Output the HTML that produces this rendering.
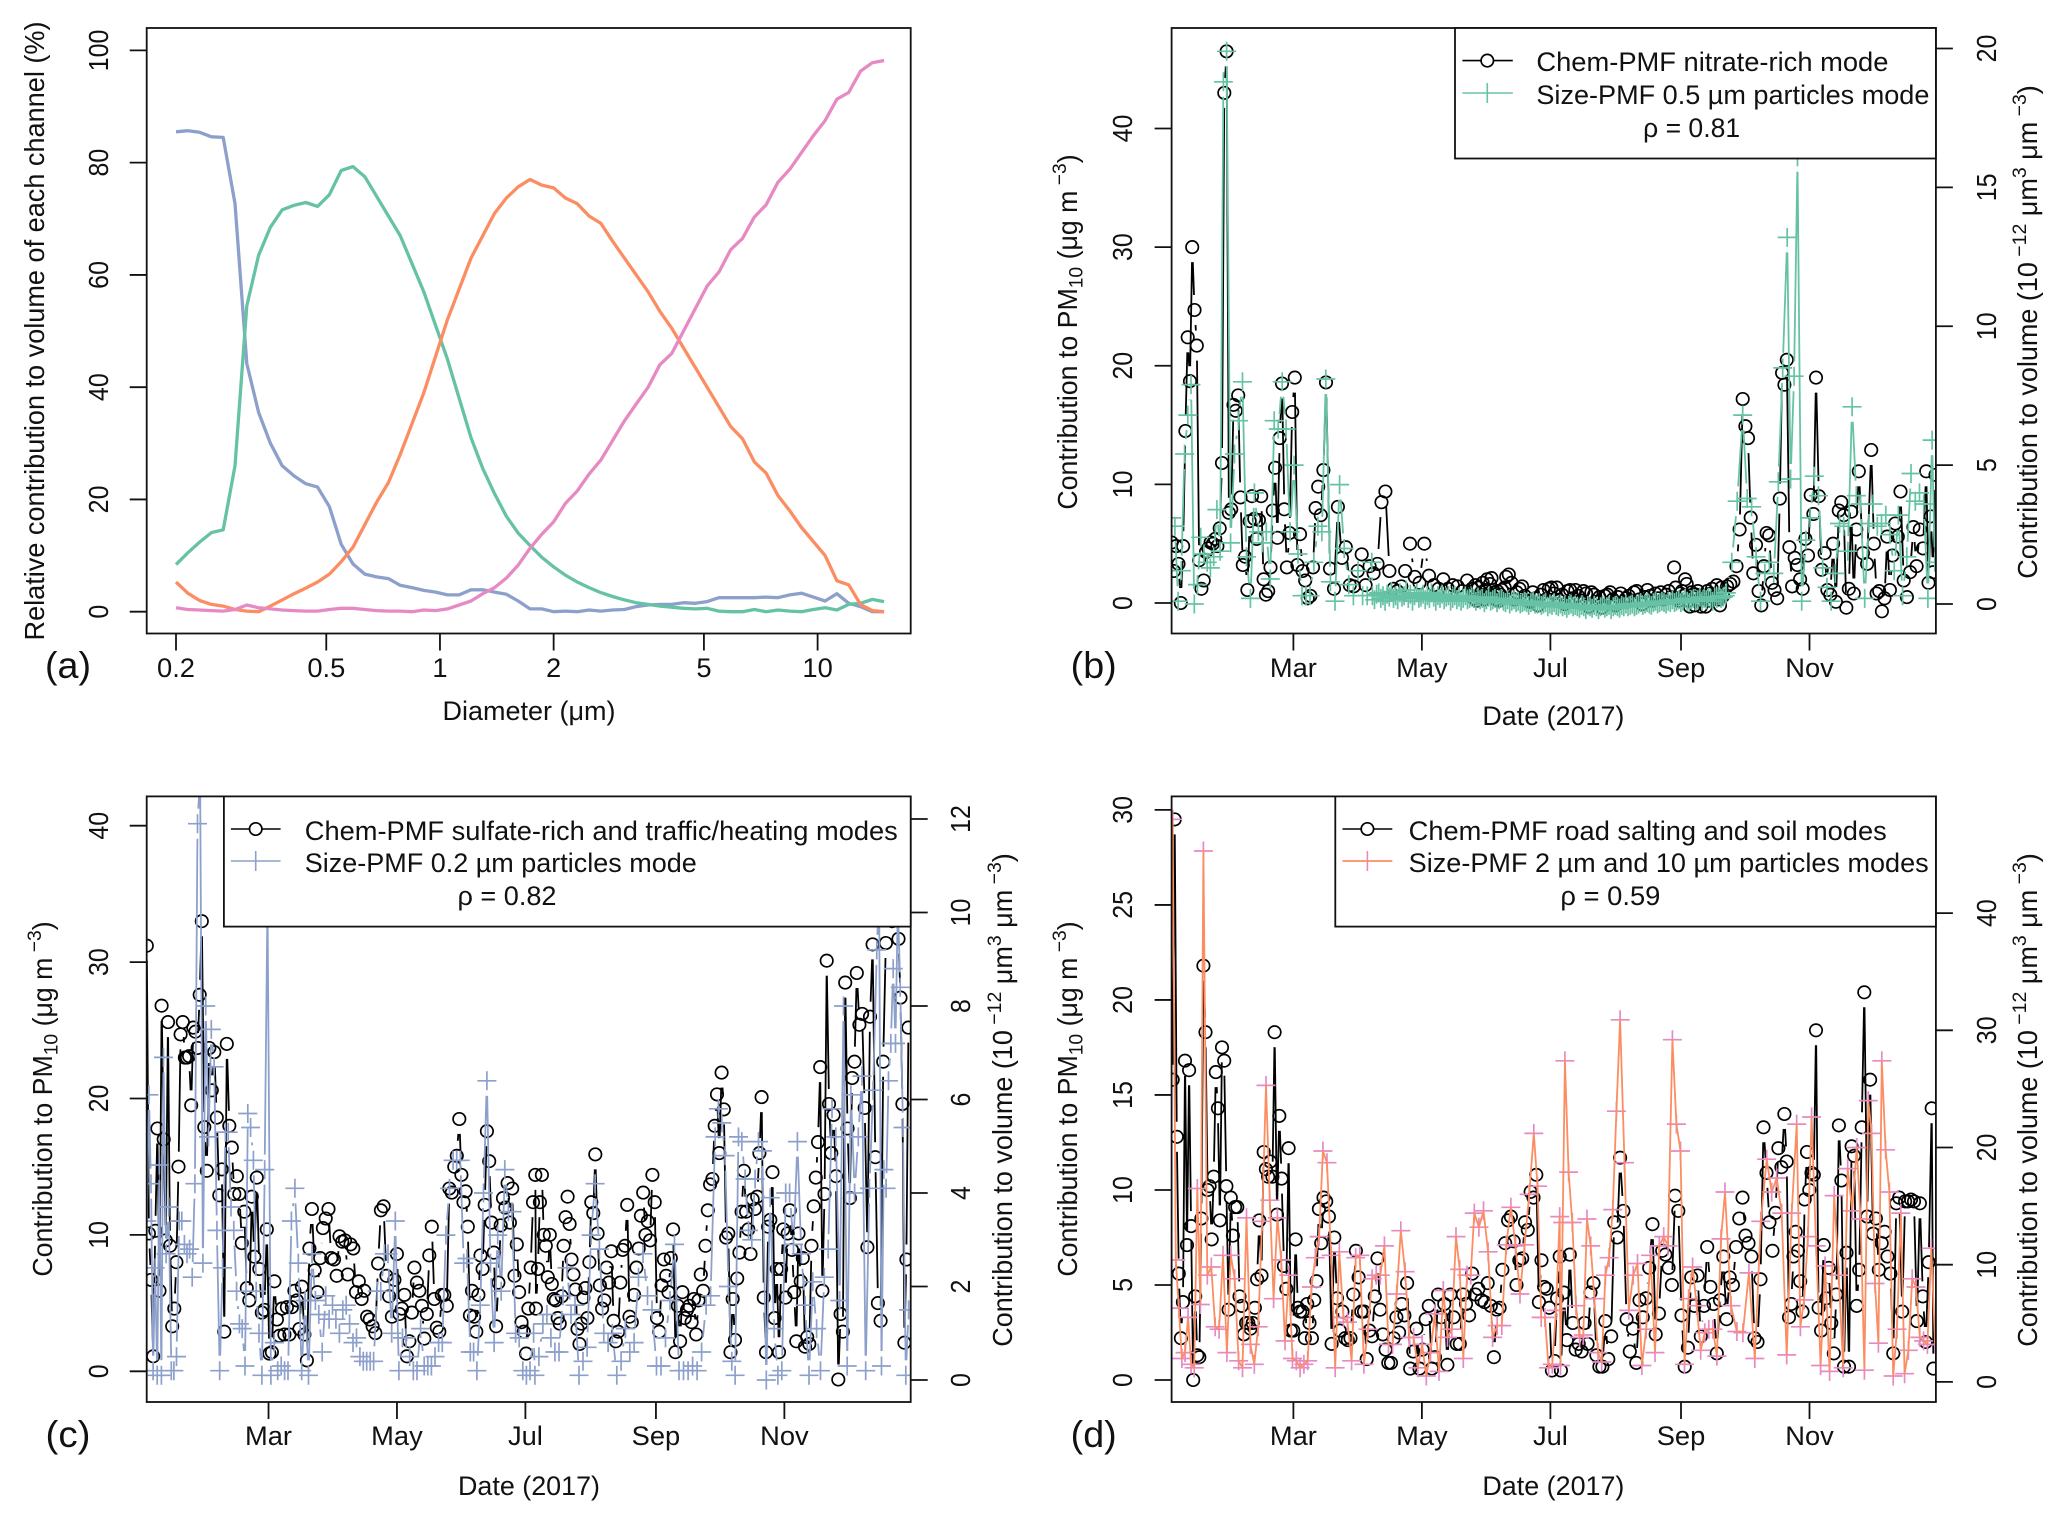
<!DOCTYPE html>
<html lang="en">
<head>
<meta charset="utf-8">
<title>PMF mode comparison chart</title>
<style>
html,body{margin:0;padding:0;background:#fff;}
svg{display:block;}
text{font-family:"Liberation Sans",sans-serif;fill:#111;}
.lab{font-size:25px;}
.leg{font-size:26.5px;}
</style>
</head>
<body>
<svg id="fig" xmlns="http://www.w3.org/2000/svg" width="2067" height="1523" viewBox="0 0 2067 1523">
<rect x="0" y="0" width="2067" height="1523" fill="#fff"/>
<defs>
<clipPath id="clipA"><rect x="146.7" y="28" width="764" height="605.5"/></clipPath>
<clipPath id="clipB"><rect x="1171.6" y="28" width="764.3" height="605.5"/></clipPath>
<clipPath id="clipC"><rect x="146.7" y="796.4" width="764" height="605.6"/></clipPath>
<clipPath id="clipD"><rect x="1171.6" y="796.4" width="764.3" height="605.6"/></clipPath>
</defs>

<g id="seriesA" clip-path="url(#clipA)"></g>
<g id="seriesB" clip-path="url(#clipB)"></g>
<g id="seriesC" clip-path="url(#clipC)"></g>
<g id="seriesD" clip-path="url(#clipD)"></g>
<g id="axes"></g>

<!-- Panel frames -->
<rect x="146.7" y="28" width="764" height="605.5" fill="none" stroke="#111" stroke-width="1.8"/>
<rect x="1171.6" y="28" width="764.3" height="605.5" fill="none" stroke="#111" stroke-width="1.8"/>
<rect x="146.7" y="796.4" width="764" height="605.6" fill="none" stroke="#111" stroke-width="1.8"/>
<rect x="1171.6" y="796.4" width="764.3" height="605.6" fill="none" stroke="#111" stroke-width="1.8"/>

<!-- Panel letters -->
<text x="68" y="678" font-size="37" text-anchor="middle" textLength="46" lengthAdjust="spacingAndGlyphs">(a)</text>
<text x="1093.7" y="678" font-size="37" text-anchor="middle" textLength="46" lengthAdjust="spacingAndGlyphs">(b)</text>
<text x="68" y="1447" font-size="37" text-anchor="middle" textLength="45" lengthAdjust="spacingAndGlyphs">(c)</text>
<text x="1093.7" y="1447" font-size="37" text-anchor="middle" textLength="46" lengthAdjust="spacingAndGlyphs">(d)</text>

<!-- Axis titles -->
<text class="lab" transform="translate(44,331) rotate(-90) scale(1,1.1)" text-anchor="middle" textLength="619" lengthAdjust="spacingAndGlyphs">Relative contribution to volume of each channel (%)</text>
<text class="leg" x="529" y="720" text-anchor="middle" textLength="173" lengthAdjust="spacingAndGlyphs">Diameter (μm)</text>
<text class="leg" x="1553.4" y="725" text-anchor="middle" textLength="142" lengthAdjust="spacingAndGlyphs">Date (2017)</text>
<text class="leg" x="529" y="1495" text-anchor="middle" textLength="142" lengthAdjust="spacingAndGlyphs">Date (2017)</text>
<text class="leg" x="1553.4" y="1495" text-anchor="middle" textLength="142" lengthAdjust="spacingAndGlyphs">Date (2017)</text>

<text class="lab" transform="translate(1077,332) rotate(-90) scale(1.07,1.1)" text-anchor="middle">Contribution to PM<tspan dy="5" font-size="18">10</tspan><tspan dy="-5"> (μg m</tspan><tspan dy="-10" font-size="18"> −3</tspan><tspan dy="10">)</tspan></text>
<text class="lab" transform="translate(52,1099) rotate(-90) scale(1.07,1.1)" text-anchor="middle">Contribution to PM<tspan dy="5" font-size="18">10</tspan><tspan dy="-5"> (μg m</tspan><tspan dy="-10" font-size="18"> −3</tspan><tspan dy="10">)</tspan></text>
<text class="lab" transform="translate(1077,1099) rotate(-90) scale(1.07,1.1)" text-anchor="middle">Contribution to PM<tspan dy="5" font-size="18">10</tspan><tspan dy="-5"> (μg m</tspan><tspan dy="-10" font-size="18"> −3</tspan><tspan dy="10">)</tspan></text>

<text class="lab" transform="translate(2037,332) rotate(-90) scale(1.08,1.1)" text-anchor="middle">Contribution to volume (10<tspan dy="-10" font-size="18"> −12</tspan><tspan dy="10"> μm</tspan><tspan dy="-10" font-size="18">3</tspan><tspan dy="10"> μm</tspan><tspan dy="-10" font-size="18"> −3</tspan><tspan dy="10">)</tspan></text>
<text class="lab" transform="translate(1012,1100) rotate(-90) scale(1.08,1.1)" text-anchor="middle">Contribution to volume (10<tspan dy="-10" font-size="18"> −12</tspan><tspan dy="10"> μm</tspan><tspan dy="-10" font-size="18">3</tspan><tspan dy="10"> μm</tspan><tspan dy="-10" font-size="18"> −3</tspan><tspan dy="10">)</tspan></text>
<text class="lab" transform="translate(2037,1100) rotate(-90) scale(1.08,1.1)" text-anchor="middle">Contribution to volume (10<tspan dy="-10" font-size="18"> −12</tspan><tspan dy="10"> μm</tspan><tspan dy="-10" font-size="18">3</tspan><tspan dy="10"> μm</tspan><tspan dy="-10" font-size="18"> −3</tspan><tspan dy="10">)</tspan></text>

<!-- Legend panel b -->
<g>
<rect x="1455" y="28" width="480.9" height="130.5" fill="#fff" stroke="#111" stroke-width="1.8"/>
<line x1="1462.4" x2="1512.8" y1="60.6" y2="60.6" stroke="#000" stroke-width="1.6"/>
<circle cx="1487.3" cy="60.6" r="6.2" fill="#fff" stroke="#000" stroke-width="1.7"/>
<line x1="1462.4" x2="1512.8" y1="93" y2="93" stroke="#66c2a5" stroke-width="1.6"/>
<line x1="1487.3" x2="1487.3" y1="83" y2="103" stroke="#66c2a5" stroke-width="1.6"/>
<text class="leg" x="1536.4" y="71" textLength="352" lengthAdjust="spacingAndGlyphs">Chem-PMF nitrate-rich mode</text>
<text class="leg" x="1536.4" y="104" textLength="393" lengthAdjust="spacingAndGlyphs">Size-PMF 0.5 µm particles mode</text>
<text class="leg" x="1691.6" y="137" text-anchor="middle" textLength="97" lengthAdjust="spacingAndGlyphs">ρ = 0.81</text>
</g>
<!-- Legend panel c -->
<g>
<rect x="223.9" y="796.4" width="686.8" height="130.2" fill="#fff" stroke="#111" stroke-width="1.8"/>
<line x1="230.9" x2="280.6" y1="829" y2="829" stroke="#000" stroke-width="1.6"/>
<circle cx="255.7" cy="829" r="6.2" fill="#fff" stroke="#000" stroke-width="1.7"/>
<line x1="230.9" x2="280.6" y1="861" y2="861" stroke="#8da0cb" stroke-width="1.6"/>
<line x1="255.7" x2="255.7" y1="851" y2="871" stroke="#8da0cb" stroke-width="1.6"/>
<text class="leg" x="304.8" y="840" textLength="593" lengthAdjust="spacingAndGlyphs">Chem-PMF sulfate-rich and traffic/heating modes</text>
<text class="leg" x="304.8" y="872" textLength="392" lengthAdjust="spacingAndGlyphs">Size-PMF 0.2 µm particles mode</text>
<text class="leg" x="507" y="905" text-anchor="middle" textLength="99" lengthAdjust="spacingAndGlyphs">ρ = 0.82</text>
</g>
<!-- Legend panel d -->
<g>
<rect x="1335.3" y="796.4" width="600.6" height="130.2" fill="#fff" stroke="#111" stroke-width="1.8"/>
<line x1="1342.5" x2="1392.3" y1="829" y2="829" stroke="#000" stroke-width="1.6"/>
<circle cx="1367.4" cy="829" r="6.2" fill="#fff" stroke="#000" stroke-width="1.7"/>
<line x1="1367.4" x2="1367.4" y1="851" y2="871" stroke="#e78ac3" stroke-width="1.6"/>
<line x1="1342.5" x2="1392.3" y1="861" y2="861" stroke="#fc8d62" stroke-width="1.8"/>
<text class="leg" x="1408.7" y="840" textLength="478" lengthAdjust="spacingAndGlyphs">Chem-PMF road salting and soil modes</text>
<text class="leg" x="1408.7" y="872" textLength="520" lengthAdjust="spacingAndGlyphs">Size-PMF 2 µm and 10 µm particles modes</text>
<text class="leg" x="1610.4" y="905" text-anchor="middle" textLength="100" lengthAdjust="spacingAndGlyphs">ρ = 0.59</text>
</g>
</svg>

<script>
// ---------- Panel (a): diameter channels ----------
const sizeChannelCount = 61;
const channelsPerDecade = 32;
const firstDiameter = 0.2;
const modeBlue = [85.5,85.7,85.4,84.6,84.5,72.7,44.2,35.5,30,26,24.2,22.8,22.2,18.7,12,8.5,6.7,6.2,5.9,4.7,4.3,3.8,3.5,3,3,3.9,3.9,3.5,3.1,1.9,0.5,0.5,0,0.1,0,0.3,0.1,0.3,0.4,0.9,1.2,1.3,1.3,1.6,1.5,1.8,2.5,2.5,2.5,2.5,2.6,2.5,3,3.3,2.6,1.9,3.2,1.5,0.9,0,0];
const modeGreen = [8.4,10.5,12.4,14.1,14.6,26,54.5,63.5,68.5,71.6,72.4,72.9,72.2,74.3,78.6,79.3,77.5,74,70.5,67,62,57,51,45,38,31,25.5,21,17,14,11.8,9.7,8,6.5,5.3,4.3,3.4,2.7,2.1,1.6,1.3,1,0.8,0.6,0.5,0.6,0.1,0,0,0.4,0,0.3,0.1,0,0.4,0.7,0.3,1.3,1.5,2.2,1.8];
const modeOrange = [5.3,3.3,2,1.3,1,0.4,0.1,0,1,2.1,3.2,4.2,5.3,6.7,8.9,11.5,15.5,19.5,23,28,33.5,39,45.5,52,57.5,63,67,71,73.7,75.7,77,76,75.5,73.7,72.7,70.5,69.2,66,63,60,57,53.5,50.5,47,43.5,40,36.5,33,30.8,26.7,24.7,20.7,18,15,12.5,10,5.5,4.8,1.3,0.2,0];
const modePink = [0.7,0.4,0.3,0.2,0.1,0.4,1.2,0.7,0.5,0.3,0.2,0.1,0.1,0.4,0.6,0.6,0.4,0.2,0.1,0.1,0,0.3,0.2,0.5,1.2,1.9,3.2,4.3,6,8.3,11.3,13.8,16,19.3,21.5,24.5,27,30.5,34,37,40,44,46,50,54,58,60.5,64.5,66.5,70.3,72.5,76.5,78.8,81.8,84.8,87.5,91.3,92.5,96.3,97.8,98.2];
const diameterTicks = [0.2,0.5,1,2,5,10];
const percentTicks = [0,20,40,60,80,100];

// ---------- Shared date axis ----------
const monthLabels = ["Mar","May","Jul","Sep","Nov"];
const monthDays = [60,121,182,244,305];

// ---------- Panel (b): nitrate-rich vs 0.5 um ----------
const chemB_JanMay = [5.1,2.7,4.8,3.3,0,4.8,14.5,22.4,18.7,30,24.7,21.7,3.6,1.2,1.9,4.3,4.6,5.1,5,5.4,4.8,6.3,11.8,43,46.5,7.6,7.9,16.7,16.2,17.5,8.9,3.2,3.9,1.1,6.9,9,7.1,5.4,7,9,2,0.7,1,3,7.8,11.4,5.5,13.9,18.5,7.9,3,5.9,16.1,19,3.2,5.8,2.7,1.9,0.4,0.6,3,8,9.8,7.4,11.2,18.6,2.9,1.2,8.1,3.8,4.7,1.5,1.4,2.7,4.1,1.5,3.1,2.5,3.3,8.5,9.4,2.7,1.2,1,1.4,2.7,5,2.2,1.7,5,2.3,1.5,1.2,2,1.2,1.5,1.4,1,1.9,1.2];
const chemB_MaySep = [1.2,0.4,1.5,0.2,1.3,0.5,0.9,1.7,0.3,1.1,2,0.6,1.6,2.1,0.5,0.9,0.3,1,0.2,0.7,1.1,0.4,1.3,2.2,2.4,1.7,0.3,0.9,1.2,1.4,0.6,0.2,0.1,0.9,0.4,-0.2,0.7,1.1,0.3,1.2,1.3,0.8,1.3,0.2,0.7,-0.1,1,1.1,0.4,1.1,0.6,0.2,1,0.8,-0.3,0.9,0.7,0.1,0.5,-0.4,0.6,0.7,0.9,0.3,-0.2,0.5,0.8,0.1,0.4,0.6,0.2,0.9,1,0.3,-0.1,0.5,1.1,0.6,0.2,0.8,0.4,0.9,0.3,0.7,1,0.5,3,1.3,0.4,0.2,0.8,1,0.6,2,1.6,0.2,-0.3,0.9,0.5,-0.2,0.7,1,0.3,-0.3,0.6,0.4,-0.3,1,0.2,0.8,1.2,0.5,0.4,1.5,0.3,-0.2,1.3,0.6];
const chemB_SepDec = [1.4,1.6,1.8,3.1,6.2,17.2,14.9,13.9,7.2,2.5,4.9,1,-0.2,3.1,5.9,5.7,1.7,1.1,0.4,8.8,19.4,18.4,20.5,4.7,1.4,3.8,3.2,2,1.2,5.4,4,9.1,7.5,19,9,2.8,4.2,1.1,0.7,5,0.1,7.8,8.5,7.4,-0.4,1.2,7.7,0.8,6.2,11.1,4.2,3.3,12.9,5,0.8,1,-0.7,0.4,5.6,1.1,4,6.7,5.6,9.4,1.9,0.5,2.6,6.4,3.1,6.2,4.6,11.1,1.7,7.3,2.6,10.8];
const sizeB_JanApr = [3.1,2.8,0.1,1.2,5.4,6.8,7.9,0,0.7,2.4,1.8,1.5,1.3,1.7,3.4,1.9,18.8,19.9,2.2,5.4,6.6,8,1.7,0.2,4,2.6,2.2,2.6,0.9,6.6,6.3,8,6.3,2.6,5,1.8,0.3,0.3,0.3,1.5,2.8,2.6,8.1,0.8,0.1,4.3,2,0.7,0.3,1.2,0.3,0.3,1.5];
const sizeB_AprSep = [0.3,0.15,0.35,0.4,0.2,0.3,0.1,0.35,0.25,0.45,0.2,0.3,0.15,0.4,0.25,0.3,0.5,0.2,0.35,0.1,0.3,0.4,0.2,0.25,0.35,0.15,0.3,0.2,0.4,0.25,0.1,0.3,0.2,0.35,0.15,0.25,0.3,0.1,0.2,0.3,0.15,0.25,0.1,0.2,0.3,0.15,0.2,0.25,0.2,0.1,0.25,0.15,0.2,0.05,0.15,0.25,0.1,0.15,0.2,0.05,0.15,0.2,0.1,0.05,0.15,0,0.1,0.15,0.05,0.1,0,0.05,0.1,0.05,-0.05,0.05,0.1,0,0,0.05,-0.05,0,0.05,-0.1,0,-0.05,0.05,-0.05,-0.1,0,-0.1,-0.05,-0.15,-0.05,0,-0.1,-0.05,-0.1,-0.15,-0.05,-0.1,-0.2,-0.05,-0.1,-0.15,-0.05,-0.1,-0.2,-0.1,-0.05,-0.15,-0.1,-0.05,-0.2,-0.1,-0.05,-0.1,-0.15,-0.05,-0.1,0,-0.1,-0.05,0,-0.1,-0.05,0,0.05,-0.05,0,0.05,0,-0.05,0.05,0.1,0,0.05,0.1,0.05,0,0.1,0.05,0.15,0.05,0.1,0.15,0.05,0.1,0.2,0.1,0.05,0.15,0.2,0.1,0.15,0.25,0.1,0.2,0.15,0.25,0.2,0.1,0.25,0.2,0.3,0.2,0.25,0.3];
const sizeB_SepDec = [0.4,1.5,3.7,6.8,3.8,3.5,1.7,0.1,1.1,1.5,1.1,4.4,8.5,13.2,4.5,8.2,16.1,0.1,2.3,3.1,4.6,3.9,1.3,0.6,0.1,1.1,2.9,2.8,1.9,7.1,3.9,3.6,0.2,2.9,3.6,2.8,2.9,3.2,2.5,1.2,3.2,0.3,1.7,4.7,3.7,4,3.6,0.2,5.9,1.5];
// observation-index -> day-of-year anchors
const chemB_JanMayIdx = [0,24,49,65,85,99];
const chemB_JanMayDay = [2.2,28.3,55.7,75.5,113.1,144.7];
const chemB_MaySepIdx = [0,23,86,119];
const chemB_MaySepDay = [145,161,240.7,265.5];
const chemB_SepDecIdx = [0,5,19,22,33,41,49,52,63,71,75];
const chemB_SepDecDay = [265.9,273.3,290.9,294.2,308.1,318.9,328.4,334.3,348.2,360.4,364.8];
const sizeB_JanAprIdx = [0,17,42,52];
const sizeB_JanAprDay = [2.2,28.3,75.4,97.2];
const sizeB_SepDecIdx = [0,3,13,16,29,48,49];
const sizeB_SepDecDay = [265.5,273.3,294.4,299.3,325.2,363.2,364.5];

// ---------- Panel (c): sulfate-rich + traffic/heating vs 0.2 um ----------
const chemC_JanJun = [31.2,10.1,6.7,1.1,10.3,17.8,5.9,26.8,17,9.6,25.6,9.2,3.3,4.6,8,15,24.7,25.6,23,23,23.1,19.5,25.2,24.9,23.7,27.6,33,17.9,14.7,23.7,20.6,23.4,18.6,12.9,14.8,2.9,24,18,16.4,13,14.3,13,9.4,11.7,6.1,5.2,12.8,8.4,14.2,7.5,4.3,4.5,10.4,1.3,1.4,6.6,3.8,2.6,4.6,2.7,4.7,2.7,4.7,5.9,5.2,3.1,6.2,2.7,0.8,9,11.9,7.4,5.8,8.3,10.5,11.2,11.9,8.3,8.2,7,9.9,9.5,9.6,7.1,9.3,9,5.8,6.6,5.3,5.9,4,3.8,3.3,2.8,7.9,11.8,12.1,7,5.5,4,6.7,8.6,4.2,4.6,5.6,1.1,2.2,4.3,7.6,6.5,5.9,4.8,2.4,4.2,8.5,10.6,5.3,3.2,2.9,5.6,5.6,4.8,13.4,13.1,15,15.8,18.5,14.4,12.4,13.2,10.6,4.1,5.9,4,2.9,5.6,8.5,7.5,12.2,17.6,15.4,10.9,8.7,3.3,6.5,10.7,12.7,12,13.8,10.9,13.4,7,9.3,5.8,3.6,2.9,1.3,4.6,7.6,12.4,14.4];
const chemC_JulDec = [4.6,7.5,12.4,14.4,10,9.2,6.9,10,6.4,5.3,5.2,3.9,3.5,5.5,9.2,11.3,12.8,10.8,8.2,7.1,6,3.1,2,3.5,5.4,6.1,3.9,8,12.4,11.6,15.9,10.1,6.3,4.6,5.2,7.6,6.5,8.8,3.7,2.2,2.9,6.5,8.9,9.2,12.2,4,3.6,5.6,7.6,9,11.4,13.1,10,11,9.6,14.4,12.4,3.9,2.9,6.3,8.2,7,5.8,8.3,10.4,1.4,4.8,2.2,5.8,3.9,4.5,4.8,3.6,5.3,2.7,5.2,7.1,5.9,9.2,11.8,13.7,14.1,18,20.3,16,21.9,19.2,9.8,10.1,1.4,5.3,2.3,6.8,8.7,11.7,14.7,11.7,10.4,8.6,12.6,11.9,12.8,16,20.1,5.4,1.4,10.6,11.1,14.6,3.9,7.5,1.4,7.5,10.4,5.4,10.1,11.8,8.9,5.8,2.2,10.1,6.6,8.3,1.8,2.5,2,9.2,12.1,14.2,16.8,22.3,5.9,13,30.1,19.6,16,18.8,14.3,-0.6,4.2,2.9,28.5,17.8,12.7,21.5,22.7,29.2,25.4,26.2,19.3,9.1,26,31.3,15.7,5,3.7,22.7,31.4,33,31.7,27.4,19.6,2.1,8.2,25.2];
const sizeC_JanJun = [3.4,6.1,4.2,0.2,2.4,0.1,4.6,0.1,6.9,2.7,3.7,0.2,0.2,0.5,3.4,3.4,2.9,2.7,2.8,2.2,4.2,11.9,12.9,2.5,8,5.2,7.5,6.7,3.2,0.2,2.4,5.3,5.3,3.7,3.2,1.9,1.2,1.1,0.3,5.7,5.4,4.7,1.9,1,0.1,4.5,10.2,0.1,0.8,0.2,0.3,0.2,0.2,3.4,4.1,2.5,0.2,1.7,0.1,2.7,1.7,1.4,0.6,1.8,1.3,1.6,1.3,1,1.5,1.6,1.2,0.8,0.9,0.5,0.4,0.4,0.4,0.4,1.9,1.9,2.7,2.7,1,3.4,0.2,0.9,0.9,0.5,0.2,0.2,1.1,0.3,0.3,0.3,0.5,0.8,0.8,3.1,4.1,4.7,4.7,4.7,2.5,2.6,0.6,0.6,0.2,1.6,4,6.4,2.5,0.8,3.1,1.9,4.5,3.6,3.6,1,0.9,0.2,0.1,0.2,1];
const sizeC_JulDec = [0.1,0.5,1.2,1.4,0.9,0.6,0.6,1.8,2.4,1.4,1.6,0.1,0.4,0.7,3.1,4.2,2.8,1,0.8,1,0.1,0.4,1.1,0.6,0.8,2.2,2.7,1.8,1.5,0.3,0.3,0.9,1.7,2.9,0.2,0.2,0.2,0.3,0.2,0.6,1.6,1.8,5.2,5.8,5.5,4.8,2,0.4,0.1,5.2,5.1,4.3,3.2,3,4.3,5.1,4.9,0,3.9,1.1,0.1,0.2,4,4,2.9,5.1,2.7,1.6,0.1,2.1,1.1,0.2,2.2,2.8,5.8,5.2,1.7,8,0.3,6.1,4,5.2,6.5,0.2,4.1,6.2,9.2,10.4,0.3,4.5,4.1,6.4,7.2,8.8,7.2,10.2,8.4,5.4,0.1,1.5];
const chemC_JanJunIdx = [0,26,70,99,126,139,160];
const chemC_JanJunDay = [2.2,28.3,80.6,118.6,150.6,163.7,186.7];
const chemC_JulDecIdx = [0,30,55,85,103,133,146,157,159,164];
const chemC_JulDecDay = [187,215.2,242.3,275.2,294.2,325.1,339.4,353.2,359.2,363.9];
const sizeC_JanJunIdx = [0,8,22,46,77,101,109,122];
const sizeC_JanJunDay = [2.2,10.1,27.5,59.5,109.9,151.1,163.7,185.9];
const sizeC_JulDecIdx = [0,15,25,42,55,65,77,86,96,99];
const sizeC_JulDecDay = [186.5,215.1,235.7,272.1,292.7,311.2,333.1,348.9,360,364];

// ---------- Panel (d): road salting + soil vs 2 um + 10 um ----------
const chemD_JanJun = [15.8,29.5,12.8,5.6,2.2,4.1,16.8,7.1,16.3,8.1,0,4.4,1.3,1.2,8.5,21.8,18.3,10,10.2,7.4,10.7,16.2,14.3,8.4,17.5,16.8,10.2,3.7,9.6,7.6,9.1,9.1,4.4,3.9,2.4,3,3,2.7,3,3.8,5.3,8.4,5.5,12,11.1,10.7,11.5,10.7,18.3,8.7,13.9,10.6,6,4.8,12.2,2.6,2.6,7.4,3.8,3.6,3.6,2.2,4,3,2.2,4.2,5.2,9,7.2,9.6,9.4,8.6,1.9,7.5,4.3,2.6,3.6,2.2,2.1,2.2,4.5,6.8,5.4,3.6,3.6,1.1,2.6,2.3,4.4,6.4,3.7,2.4,1.6,0.9,0.9,2.2,3.3,2.5,4,3.4,5.1,0.6,1.5,2.7,0.6,1.6,3.2,3.9,0.6,1.2,4.5,3.3,4,0.8,4.5,3.3,1.9,1.9,4.5,4,3.4,5.6,4.5,4.8,4.2,4.1,5.1,3.9,1.2,3.7,3.8,5.8,7.2,8.4,8.6,7.3,5,6.3,6.4,8.3,7.9,9.9,9.6,10.8,4.1,6.3,4.9,4.8,3.8,0.5,1,4.3,6.5];
const chemD_JulDec = [0.5,4.6,2.1,6.6,3,1.6,1.9,1.5,3,1.9,4.6,5.1,1.3,0.7,0.7,3.1,1.1,2.3,8.3,7.5,11.7,8.9,3.2,1.5,2.7,0.9,4.2,3.3,4.3,5.9,8.2,2.4,3.5,6.8,6.6,5.9,5,9.7,8.9,3.4,0.7,1.7,5.4,3.9,5.5,2.3,3.9,7,4.9,4,1.4,4.2,6.5,3.2,5.4,5,7,8.5,9.6,7.6,7.2,6.5,2.2,2,5.3,13.3,10.9,8.3,6.8,8.8,12.2,11.2,14,11.5,3.3,4,6.5,7.8,6.8,5.2,3.6,9.5,12,10,10.9,10.8,18.4,3.8,2.6,7.1,4.3,5.9,3,1.4,4.5,13.4,10.5,0.7,6.7,0.7,12.3,11.8,3.9,5.8,13.3,20.4,8.6,15.8,7.7,8.5,5.8,7.2,7.8,6.5,5.6,1.4,9.3,9.6,3.6,9.4,9.4,9.5,9.4,3.1,9.3,4.4,2,6.2,14.3,0.6];
const sizeD_JanJun = [48,10.4,6.3,2,2.5,5.5,1.5,1.2,16.5,6.6,45.3,9.1,9.8,4.7,4.5,10.8,2.5,10.8,8.8,1.8,1.2,14,3.2,1.5,4.7,13.7,25.3,15.5,7.1,14,10.4,3.5,9.1,2,1.8,1.2,1.5,1.8,8.1,10.6,12.4,19.7,18.7,10.8,1.2,11.1,5.5,5.1,1.8,10.6,10.8,1.5,4.5,8.8,9.1,9.1,11.6,3.2,3.2,7.5,12.9,9.4,3.8,3.8,1.2,3.2,0.5,2.5,5.8,0.9,7.8,3.8,4.5,12.4,9.6,2,9.1,9.1,14.4,13.2,14.6,11.1,3.8,4.8,4.8,11.7,14.9,11.6,7.5,11.7,16,21.2,16.7,5.5,5.5,1.2,1.5,6.1,14.1];
const sizeD_JulDec = [1.4,13.6,27.4,17.9,13.6,6.5,3.8,4,13.9,11.6,7.1,2.5,1.7,9.1,10.6,14.7,23.1,30.9,18.7,6.1,9.1,10.1,1.4,4.5,10.8,2.5,11.6,12.4,11.6,29.2,22,19.7,1.5,7.1,9.8,6.5,2.7,4.2,4.5,4.5,2.2,12.2,16.2,6.5,4.3,4.2,9.3,2,13.7,19,16.2,17.4,14.4,2.3,14.4,22,4.7,7,12.4,22.6,11.6,1.4,9.9,0.9,15.9,9.1,1.2,18.2,14.6,20,13.9,1,24,21.2,8.4,3.3,27.4,19.8,16.2,0.5,4.5,14.4,0.7,2.7,8.8,8.1,3.8,3.5,3.2,11.4,3.2];
const chemD_JanJunIdx = [0,15,24,48,69,100,128,143,152];
const chemD_JanJunDay = [2.7,17.3,26.1,51.1,74.3,114,155.2,175.3,186.4];
const chemD_JulDecIdx = [0,20,37,58,72,86,105,115,128,129];
const chemD_JulDecDay = [187,215.1,241.2,273.2,293.1,308.1,331,344.8,363,363.8];
const sizeD_JanJunIdx = [0,10,26,41,60,73,78,91,98];
const sizeD_JanJunDay = [2.7,17.3,47,74,111,137.2,145.9,174.1,186.4];
const sizeD_JulDecIdx = [0,2,17,29,42,49,55,59,69,72,76,90];
const sizeD_JulDecDay = [186.8,188.9,215.1,239.9,264.9,284.7,298.9,306,327.4,332.9,339.3,364.6];

const leftTicksB = [0,10,20,30,40];
const rightTicksB = [0,5,10,15,20];
const leftTicksC = [0,10,20,30,40];
const rightTicksC = [0,2,4,6,8,10,12];
const leftTicksD = [0,5,10,15,20,25,30];
const rightTicksD = [0,10,20,30,40];

// ---------- Drawing ----------
const NS = "http://www.w3.org/2000/svg";
const BLACK = "#000";
const GREEN = "#66c2a5", ORANGE = "#fc8d62", BLUE = "#8da0cb", PINK = "#e78ac3";

function linear(d0, d1, r0, r1) {
  return function (v) { return r0 + (v - d0) * (r1 - r0) / (d1 - d0); };
}
function create(parent, tag) {
  const el = document.createElementNS(NS, tag);
  parent.appendChild(el);
  return el;
}
// Place observations on the calendar, using day anchors for selected observation numbers.
function place(values, idx, days) {
  return values.map(function (v, i) {
    let s = 0;
    while (s < idx.length - 2 && i > idx[s + 1]) s++;
    const day = days[s] + (i - idx[s]) * (days[s + 1] - days[s]) / (idx[s + 1] - idx[s]);
    return { day: day, value: v };
  });
}
function pathWithGaps(points, gap) {
  let d = "";
  for (let i = 1; i < points.length; i++) {
    const a = points[i - 1], b = points[i];
    const dx = b[0] - a[0], dy = b[1] - a[1];
    const len = Math.sqrt(dx * dx + dy * dy);
    if (len <= 2 * gap) continue;
    const ux = dx / len, uy = dy / len;
    d += "M" + (a[0] + ux * gap).toFixed(1) + " " + (a[1] + uy * gap).toFixed(1) +
         "L" + (b[0] - ux * gap).toFixed(1) + " " + (b[1] - uy * gap).toFixed(1);
  }
  return d;
}
function drawChem(g, data, xs, ys) {
  const pts = data.map(function (p) { return [xs(p.day), ys(p.value)]; });
  const line = create(g, "path");
  line.setAttribute("d", pathWithGaps(pts, 15));
  line.setAttribute("fill", "none");
  line.setAttribute("stroke", BLACK);
  line.setAttribute("stroke-width", "1.8");
  
  
  pts.forEach(function (p) {
    const c = create(g, "circle");
    c.setAttribute("cx", p[0].toFixed(1));
    c.setAttribute("cy", p[1].toFixed(1));
    c.setAttribute("r", "6.2");
    c.setAttribute("fill", "none");
    c.setAttribute("stroke", BLACK);
    c.setAttribute("stroke-width", "1.7");
    
    
  });
}
function drawSize(g, data, xs, ys, lineColor, crossColor, gap) {
  const pts = data.map(function (p) { return [xs(p.day), ys(p.value)]; });
  pts.forEach(function (p) {
    const c = create(g, "path");
    c.setAttribute("d", "M" + (p[0] - 9.5).toFixed(1) + " " + p[1].toFixed(1) + "h19M" + p[0].toFixed(1) + " " + (p[1] - 9.5).toFixed(1) + "v19");
    c.setAttribute("fill", "none");
    c.setAttribute("stroke", crossColor);
    c.setAttribute("stroke-width", "1.7");
    
    
  });
  const line = create(g, "path");
  line.setAttribute("d", pathWithGaps(pts, gap));
  line.setAttribute("fill", "none");
  line.setAttribute("stroke", lineColor);
  line.setAttribute("stroke-width", "1.8");
  
  
}
const axesGroup = document.getElementById("axes");
function tickLine(x1, y1, x2, y2) {
  const t = create(axesGroup, "line");
  t.setAttribute("x1", x1);
  t.setAttribute("y1", y1);
  t.setAttribute("x2", x2);
  t.setAttribute("y2", y2);
  t.setAttribute("stroke", "#111");
  t.setAttribute("stroke-width", "1.8");
  
  
}
function horizontalLabel(x, y, label) {
  const t = create(axesGroup, "text");
  t.setAttribute("class", "leg");
  t.setAttribute("text-anchor", "middle");
  t.setAttribute("transform", "translate(" + x + "," + y + ") scale(1.03,1)");
  t.textContent = label;
  
  
}
function verticalLabel(x, y, label) {
  const t = create(axesGroup, "text");
  t.setAttribute("class", "lab");
  t.setAttribute("text-anchor", "middle");
  t.setAttribute("transform", "translate(" + x + "," + y + ") rotate(-90) scale(1,1.12)");
  t.textContent = label;
  
  
}
function leftAxis(ticks, ys, xFrame, xLabel) {
  ticks.forEach(function (v) {
    tickLine(xFrame, ys(v), xFrame - 17, ys(v));
    verticalLabel(xLabel, ys(v), String(v));
  });
}
function rightAxis(ticks, ys, xFrame, xLabel) {
  ticks.forEach(function (v) {
    tickLine(xFrame, ys(v), xFrame + 17, ys(v));
    verticalLabel(xLabel, ys(v), String(v));
  });
}
function monthAxis(xs, yFrame, yLabel) {
  monthDays.forEach(function (d, i) {
    tickLine(xs(d), yFrame, xs(d), yFrame + 17);
    horizontalLabel(xs(d), yLabel, monthLabels[i]);
  });
}

// Panel (a)
(function () {
  const g = document.getElementById("seriesA");
  const xs = linear(Math.log10(0.2), Math.log10(10), 176, 817.6);
  const ys = linear(0, 100, 611.7, 50.4);
  const groups = [[modeBlue, BLUE, "mode-0-2um-line"], [modeGreen, GREEN, "mode-0-5um-line"], [modeOrange, ORANGE, "mode-2um-line"], [modePink, PINK, "mode-10um-line"]];
  groups.forEach(function (item) {
    const d = item[0].map(function (v, i) {
      const dia = firstDiameter * Math.pow(10, i / channelsPerDecade);
      return (i ? "L" : "M") + xs(Math.log10(dia)).toFixed(1) + " " + ys(v).toFixed(1);
    }).join("");
    const p = create(g, "path");
    p.setAttribute("d", d);
    p.setAttribute("fill", "none");
    p.setAttribute("stroke", item[1]);
    p.setAttribute("stroke-width", "3.3");
    p.setAttribute("stroke-linejoin", "round");
    
    
  });
  diameterTicks.forEach(function (v) {
    const x = xs(Math.log10(v));
    tickLine(x, 633.5, x, 650.5);
    horizontalLabel(x, 677, String(v));
  });
  leftAxis(percentTicks, ys, 146.7, 108);
})();

// Panel (b)
(function () {
  const g = document.getElementById("seriesB");
  const xs = linear(1, 365, 1169.1, 1935.9);
  const yl = linear(0, 40, 603, 128.5);
  const yr = linear(0, 20, 604, 48.5);
  const chem = place(chemB_JanMay, chemB_JanMayIdx, chemB_JanMayDay)
    .concat(place(chemB_MaySep, chemB_MaySepIdx, chemB_MaySepDay), place(chemB_SepDec, chemB_SepDecIdx, chemB_SepDecDay));
  const size = place(sizeB_JanApr, sizeB_JanAprIdx, sizeB_JanAprDay)
    .concat(place(sizeB_AprSep, [0, sizeB_AprSep.length - 1], [97.5, 265]), place(sizeB_SepDec, sizeB_SepDecIdx, sizeB_SepDecDay));
  drawChem(g, chem, xs, yl);
  drawSize(g, size, xs, yr, GREEN, GREEN, 15);
  leftAxis(leftTicksB, yl, 1171.6, 1132);
  rightAxis(rightTicksB, yr, 1935.9, 1996);
  monthAxis(xs, 633.5, 677);
})();

// Panel (c)
(function () {
  const g = document.getElementById("seriesC");
  const xs = linear(1, 365, 144.3, 910.7);
  const yl = linear(0, 40, 1371.3, 825.7);
  const yr = linear(0, 12, 1380, 819);
  const chem = place(chemC_JanJun, chemC_JanJunIdx, chemC_JanJunDay)
    .concat(place(chemC_JulDec, chemC_JulDecIdx, chemC_JulDecDay));
  const size = place(sizeC_JanJun, sizeC_JanJunIdx, sizeC_JanJunDay)
    .concat(place(sizeC_JulDec, sizeC_JulDecIdx, sizeC_JulDecDay));
  drawChem(g, chem, xs, yl);
  drawSize(g, size, xs, yr, BLUE, BLUE, 15);
  leftAxis(leftTicksC, yl, 146.7, 108);
  rightAxis(rightTicksC, yr, 910.7, 970);
  monthAxis(xs, 1402, 1445);
})();

// Panel (d)
(function () {
  const g = document.getElementById("seriesD");
  const xs = linear(1, 365, 1169.1, 1935.9);
  const yl = linear(0, 30, 1380, 809.9);
  const yr = linear(0, 40, 1381.9, 913.1);
  const chem = place(chemD_JanJun, chemD_JanJunIdx, chemD_JanJunDay)
    .concat(place(chemD_JulDec, chemD_JulDecIdx, chemD_JulDecDay));
  const size = place(sizeD_JanJun, sizeD_JanJunIdx, sizeD_JanJunDay)
    .concat(place(sizeD_JulDec, sizeD_JulDecIdx, sizeD_JulDecDay));
  drawChem(g, chem, xs, yl);
  drawSize(g, size, xs, yr, ORANGE, PINK, 0);
  leftAxis(leftTicksD, yl, 1171.6, 1132);
  rightAxis(rightTicksD, yr, 1935.9, 1996);
  monthAxis(xs, 1402, 1445);
})();
</script>
</body>
</html>
